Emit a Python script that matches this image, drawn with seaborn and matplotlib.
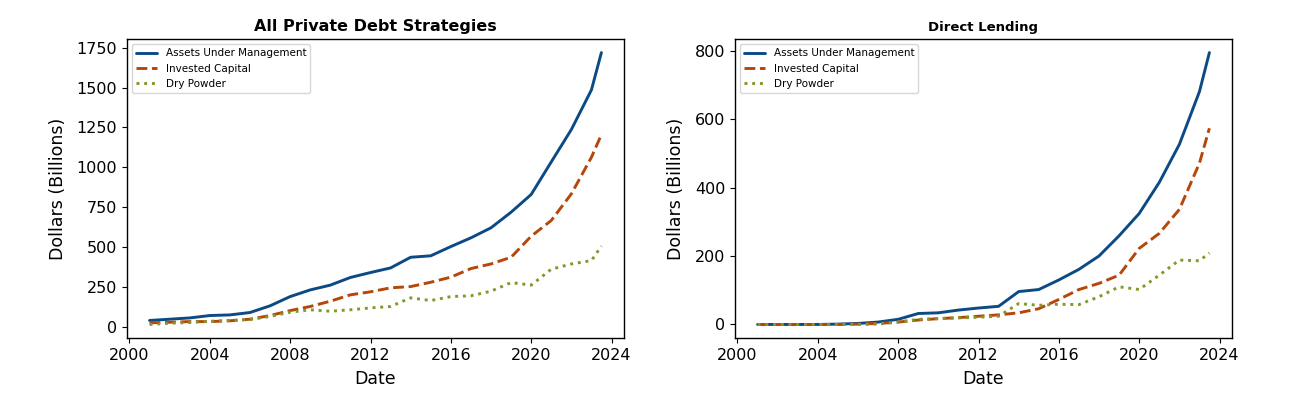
import numpy as np
import pandas as pd
import matplotlib
matplotlib.use('Agg')
import matplotlib.pyplot as plt
from matplotlib.ticker import MultipleLocator
import seaborn as sns

# year-end points 2000-2022, last point mid 2023
dates = [f"{y}-12-31" for y in range(2000, 2023)] + ["2023-06-30"]

all_aum = [38, 46, 54, 69, 73, 88, 130, 188, 230, 260, 308, 339, 368, 435,
           444, 502, 557, 620, 718, 829, 1034, 1237, 1486, 1720]
all_invested = [23, 27, 31, 31, 36, 46, 69, 100, 126, 159, 199, 218, 243, 251,
                278, 310, 364, 393, 435, 567, 666, 833, 1063, 1205]
all_dry = [13, 21, 25, 33, 38, 44, 63, 90, 105, 96, 105, 117, 126, 180,
           163, 188, 193, 222, 276, 260, 360, 393, 414, 505]

dl_aum = [0, 0, 0, 0, 1, 3, 7, 15, 32, 34, 42, 48, 53, 96,
          102, 130, 161, 200, 259, 324, 415, 526, 680, 794]
dl_invested = [0, 0, 0, 0, 0, 1, 3, 7, 13, 17, 20, 24, 28, 34,
               46, 73, 102, 120, 144, 222, 266, 336, 471, 573]
dl_dry = [0, 0, 0, 0, 0, 0, 1, 7, 15, 17, 19, 21, 24, 61,
          56, 59, 58, 81, 110, 102, 144, 188, 186, 209]

series_names = ["Assets Under Management", "Invested Capital", "Dry Powder"]
palette = {"Assets Under Management": "#0b4a85",
           "Invested Capital": "#b5470b",
           "Dry Powder": "#7f9a2a"}
dashes = {"Assets Under Management": "",
          "Invested Capital": (3.7, 1.6),
          "Dry Powder": (1, 1.65)}


def to_long(aum, invested, dry):
    frames = []
    for name, vals in zip(series_names, [aum, invested, dry]):
        frames.append(pd.DataFrame({'Date': pd.to_datetime(dates),
                                    'Value': vals, 'Series': name}))
    return pd.concat(frames, ignore_index=True)


sns.set_style("ticks", {'text.color': 'black', 'axes.labelcolor': 'black',
                        'xtick.color': 'black', 'ytick.color': 'black',
                        'axes.edgecolor': 'black'})
plt.rcParams['font.family'] = ['DejaVu Sans']

fig, axes = plt.subplots(1, 2, figsize=(13.13, 3.94), dpi=100)
fig.subplots_adjust(left=0.0967, right=0.9383, top=0.901, bottom=0.142,
                    wspace=0.2233)

panels = [("All Private Debt Strategies", 11.5, 250,
           to_long(all_aum, all_invested, all_dry)),
          ("Direct Lending", 9.5, 200,
           to_long(dl_aum, dl_invested, dl_dry))]

for ax, (title, tsize, ystep, df) in zip(axes, panels):
    sns.lineplot(data=df, x='Date', y='Value', hue='Series', style='Series',
                 palette=palette, dashes=dashes, linewidth=2.1, ax=ax)
    ax.set_title(title, fontsize=tsize, fontweight='bold')
    ax.set_xlabel('Date', fontsize=12.5, labelpad=5)
    ax.set_ylabel('Dollars (Billions)', fontsize=12.5, labelpad=7)
    ax.yaxis.set_major_locator(MultipleLocator(ystep))
    ax.tick_params(labelsize=11.5)
    handles, labels = ax.get_legend_handles_labels()
    ax.legend(handles, labels, loc='upper left', fontsize=7.5, title=None)
    for s in ax.spines.values():
        s.set_linewidth(1.0)

plt.savefig('out.png', dpi=100)
